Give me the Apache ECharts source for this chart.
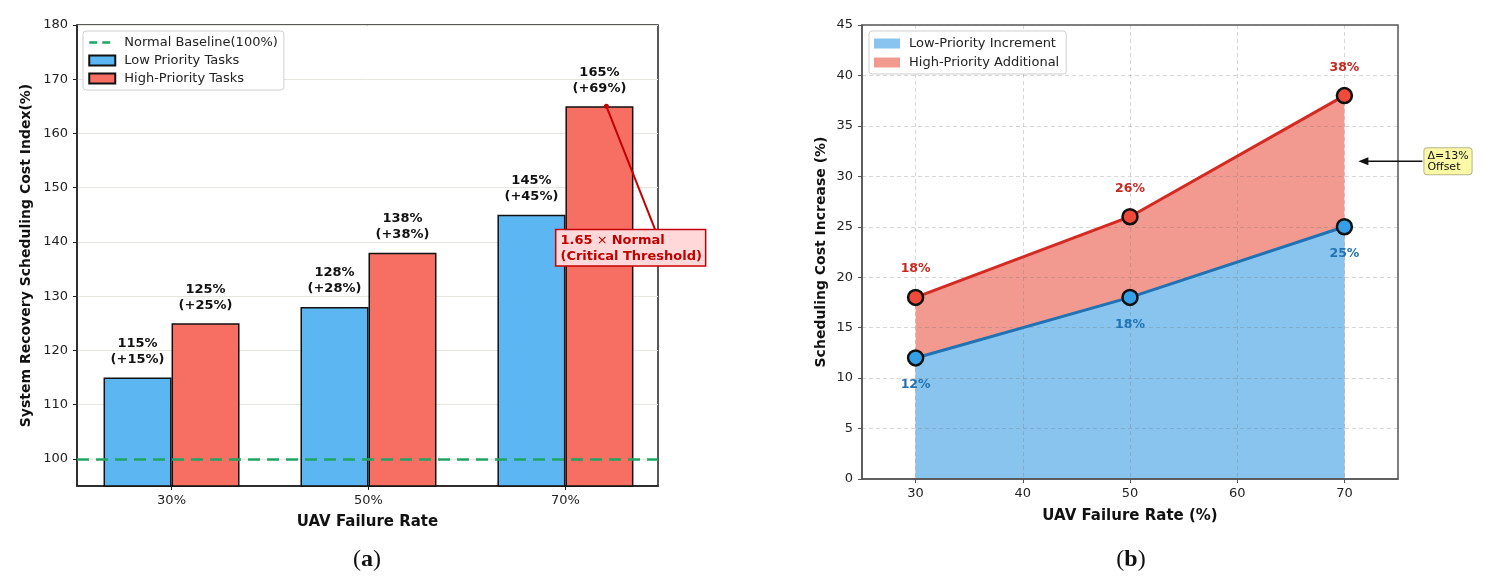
<!DOCTYPE html>
<html>
<head>
<meta charset="utf-8">
<script src="https://cdn.jsdelivr.net/npm/echarts@6/dist/echarts.min.js"></script>
<style>
  html, body { margin: 0; padding: 0; background: #fff; }
  #main { width: 1508px; height: 586px; }
</style>
</head>
<body>
<div id="main"></div>
<script>
// (a) bar chart
const failureRates = ['30%', '50%', '70%']
const lowPriority = [115, 128, 145]
const highPriority = [125, 138, 165]
const lowGain = [15, 28, 45]
const highGain = [25, 38, 69]
const baseline = 100
const costTicks = [100, 110, 120, 130, 140, 150, 160, 170, 180]
const barPos = [0, 1, 2]

// (b) area chart
const rateX = [30, 50, 70]
const lowIncrement = [12, 18, 25]
const highIncrement = [18, 26, 38]
const rateTicks = [30, 40, 50, 60, 70]

const FONT = 'DejaVu Sans'
const BLUE_FILL = '#88c4ee'
const RED_FILL = '#f29a90'
const chartDom = document.getElementById('main')
const myChart = echarts.init(chartDom)

const barLabel = (vals, gains) => ({
  show: true,
  position: 'top',
  distance: 10,
  formatter: (p) => vals[p.dataIndex] + '%\n(+' + gains[p.dataIndex] + '%)',
  fontFamily: FONT,
  fontSize: 13,
  fontWeight: 'bold',
  lineHeight: 16,
  color: '#111'
})

const legendBox = {
  orient: 'vertical',
  itemWidth: 26,
  itemHeight: 10,
  backgroundColor: '#fff',
  borderColor: '#cfcfcf',
  borderWidth: 1,
  borderRadius: 3,
  textStyle: { fontFamily: FONT, fontSize: 13, color: '#222', padding: [0, 0, 0, 4] }
}

const option = {
  animation: false,
  textStyle: { fontFamily: FONT },
  legend: [
    Object.assign({}, legendBox, {
      left: 83,
      top: 31,
      padding: [5, 6, 5, 5],
      itemGap: 5,
      data: [
        { name: 'Normal Baseline(100%)', itemStyle: { opacity: 0 }, lineStyle: { color: '#1fa463', type: [8, 5], width: 2.5 } },
        { name: 'Low Priority Tasks', icon: 'rect' },
        { name: 'High-Priority Tasks', icon: 'rect' }
      ]
    }),
    Object.assign({}, legendBox, {
      left: 869,
      top: 31,
      padding: [6, 7, 5, 5],
      itemGap: 6,
      data: [
        { name: 'Low-Priority Increment', icon: 'rect', itemStyle: { color: BLUE_FILL, borderWidth: 0 } },
        { name: 'High-Priority Additional', icon: 'rect', itemStyle: { color: RED_FILL, borderWidth: 0 } }
      ]
    })
  ],
  grid: [
    { left: 77, top: 25, width: 581, height: 461, show: true, borderColor: '#222', borderWidth: 1.5, backgroundColor: 'transparent' },
    { left: 862, top: 25, width: 536, height: 454, show: true, borderColor: '#555', borderWidth: 1.5, backgroundColor: 'transparent' }
  ],
  xAxis: [
    {
      gridIndex: 0,
      type: 'value',
      min: -0.48,
      max: 2.47,
      name: 'UAV Failure Rate',
      nameLocation: 'middle',
      nameGap: 29,
      nameTextStyle: { fontFamily: FONT, fontSize: 15, fontWeight: 'bold', color: '#111' },
      axisLine: { onZero: false, lineStyle: { color: '#222', width: 1.5 } },
      axisTick: { show: true, length: 4, customValues: barPos, lineStyle: { color: '#222' } },
      axisLabel: { fontFamily: FONT, fontSize: 13, color: '#222', margin: 8, customValues: barPos, formatter: (v) => failureRates[Math.round(v)] },
      splitLine: { show: false }
    },
    {
      gridIndex: 1,
      type: 'value',
      min: 25,
      max: 75,
      name: 'UAV Failure Rate (%)',
      nameLocation: 'middle',
      nameGap: 30,
      nameTextStyle: { fontFamily: FONT, fontSize: 15, fontWeight: 'bold', color: '#111' },
      axisLine: { onZero: false, lineStyle: { color: '#555', width: 1.5 } },
      axisTick: { show: true, length: 4, customValues: rateTicks, lineStyle: { color: '#555' } },
      axisLabel: { fontFamily: FONT, fontSize: 13, color: '#222', margin: 8, customValues: rateTicks },
      splitLine: { show: true, lineStyle: { color: 'rgba(110,110,110,0.28)', type: [4, 3], width: 1 } }
    }
  ],
  yAxis: [
    {
      gridIndex: 0,
      type: 'value',
      min: 95,
      max: 180,
      name: 'System Recovery Scheduling Cost Index(%)',
      nameLocation: 'middle',
      nameGap: 44,
      nameTextStyle: { fontFamily: FONT, fontSize: 14, fontWeight: 'bold', color: '#111' },
      axisLine: { show: true, onZero: false, lineStyle: { color: '#222', width: 1.5 } },
      axisTick: { show: true, length: 4, customValues: costTicks, lineStyle: { color: '#222' } },
      axisLabel: { fontFamily: FONT, fontSize: 13, color: '#222', margin: 9, customValues: costTicks },
      splitLine: { show: true, lineStyle: { color: '#e6e6dd', width: 1 } }
    },
    {
      gridIndex: 1,
      type: 'value',
      min: 0,
      max: 45,
      interval: 5,
      name: 'Scheduling Cost Increase (%)',
      nameLocation: 'middle',
      nameGap: 34,
      nameTextStyle: { fontFamily: FONT, fontSize: 14, fontWeight: 'bold', color: '#111' },
      axisLine: { show: true, onZero: false, lineStyle: { color: '#555', width: 1.5 } },
      axisTick: { show: true, length: 4, lineStyle: { color: '#555' } },
      axisLabel: { fontFamily: FONT, fontSize: 13, color: '#222', margin: 9 },
      splitLine: { show: true, lineStyle: { color: 'rgba(110,110,110,0.28)', type: [4, 3], width: 1 } }
    }
  ],
  series: [
    {
      name: 'Normal Baseline(100%)',
      type: 'line',
      xAxisIndex: 0,
      yAxisIndex: 0,
      data: [],
      symbol: 'none',
      color: '#1fa463',
      lineStyle: { color: '#1fa463', type: [8, 5], width: 2.5 },
      z: 5,
      markLine: {
        silent: true,
        symbol: 'none',
        label: { show: false },
        lineStyle: { color: '#1fa463', type: [12, 7], width: 2.5 },
        data: [{ yAxis: baseline }]
      }
    },
    {
      name: 'Low Priority Tasks',
      type: 'bar',
      xAxisIndex: 0,
      yAxisIndex: 0,
      data: barPos.map((x, i) => [x, lowPriority[i]]),
      barWidth: 68,
      barGap: '0%',
      itemStyle: { color: '#5cb6f2', borderColor: '#111', borderWidth: 1.5 },
      label: barLabel(lowPriority, lowGain)
    },
    {
      name: 'High-Priority Tasks',
      type: 'bar',
      xAxisIndex: 0,
      yAxisIndex: 0,
      data: barPos.map((x, i) => [x, highPriority[i]]),
      barWidth: 68,
      barGap: '0%',
      itemStyle: { color: '#f76f62', borderColor: '#111', borderWidth: 1.5 },
      label: barLabel(highPriority, highGain)
    },
    // filled bands (drawn under the dashed grid)
    {
      name: 'High-Priority Additional',
      type: 'line',
      xAxisIndex: 1,
      yAxisIndex: 1,
      data: rateX.map((x, i) => [x, highIncrement[i]]),
      symbol: 'none',
      color: RED_FILL,
      lineStyle: { width: 0 },
      areaStyle: { color: RED_FILL, opacity: 1 },
      z: -2
    },
    {
      name: 'Low-Priority Increment',
      type: 'line',
      xAxisIndex: 1,
      yAxisIndex: 1,
      data: rateX.map((x, i) => [x, lowIncrement[i]]),
      symbol: 'none',
      color: BLUE_FILL,
      lineStyle: { width: 0 },
      areaStyle: { color: BLUE_FILL, opacity: 1 },
      z: -1
    },
    // outlines, markers and value labels
    {
      name: 'lowLine',
      type: 'line',
      xAxisIndex: 1,
      yAxisIndex: 1,
      data: rateX.map((x, i) => [x, lowIncrement[i]]),
      symbol: 'circle',
      symbolSize: 15,
      lineStyle: { color: '#1f72b4', width: 3 },
      itemStyle: { color: '#35a0e8', borderColor: '#111', borderWidth: 2.5 },
      label: {
        show: true,
        position: 'bottom',
        distance: 12,
        formatter: (p) => lowIncrement[p.dataIndex] + '%',
        fontFamily: FONT,
        fontSize: 12.5,
        fontWeight: 'bold',
        color: '#1f72b4'
      },
      z: 3
    },
    {
      name: 'highLine',
      type: 'line',
      xAxisIndex: 1,
      yAxisIndex: 1,
      data: rateX.map((x, i) => [x, highIncrement[i]]),
      symbol: 'circle',
      symbolSize: 15,
      lineStyle: { color: '#d42a22', width: 3 },
      itemStyle: { color: '#f04a3a', borderColor: '#111', borderWidth: 2.5 },
      label: {
        show: true,
        position: 'top',
        distance: 13,
        formatter: (p) => highIncrement[p.dataIndex] + '%',
        fontFamily: FONT,
        fontSize: 12.5,
        fontWeight: 'bold',
        color: '#c62820'
      },
      z: 4
    }
  ]
}

myChart.setOption(option)

// annotations placed from the axes
const peak = myChart.convertToPixel({ xAxisIndex: 0, yAxisIndex: 0 }, [barPos[2], highPriority[2]])
const dotX = peak[0] + 41
const dotY = peak[1]
const last = rateX.length - 1
const mid = myChart.convertToPixel({ xAxisIndex: 1, yAxisIndex: 1 },
  [rateX[last], (lowIncrement[last] + highIncrement[last]) / 2])
const delta = highIncrement[last] - lowIncrement[last]

myChart.setOption({
  graphic: [
    {
      type: 'line',
      shape: { x1: dotX, y1: dotY, x2: dotX + 49, y2: dotY + 124 },
      style: { stroke: '#c40000', lineWidth: 2 },
      z: 20
    },
    {
      type: 'circle',
      shape: { cx: dotX, cy: dotY, r: 2.5 },
      style: { fill: '#c40000' },
      z: 21
    },
    {
      type: 'text',
      x: dotX - 50,
      y: dotY + 124,
      z: 22,
      style: {
        text: '{b|1.65} × {b|Normal}\n{b|(Critical Threshold)}',
        fill: '#c00000',
        font: '13px "DejaVu Sans"',
        lineHeight: 16,
        backgroundColor: '#ffd9d9',
        borderColor: '#c40000',
        borderWidth: 1.5,
        padding: [2, 3, 1, 4],
        rich: {
          b: { fontFamily: FONT, fontSize: 13, fontWeight: 'bold', fill: '#c00000', lineHeight: 16 }
        }
      }
    },
    {
      type: 'line',
      shape: { x1: mid[0] + 78, y1: mid[1], x2: mid[0] + 22, y2: mid[1] },
      style: { stroke: '#111', lineWidth: 1.5 },
      z: 20
    },
    {
      type: 'polygon',
      shape: { points: [[mid[0] + 14, mid[1]], [mid[0] + 24, mid[1] - 4], [mid[0] + 24, mid[1] + 4]] },
      style: { fill: '#111' },
      z: 20
    },
    {
      type: 'text',
      x: mid[0] + 80,
      y: mid[1] - 13,
      z: 22,
      style: {
        text: 'Δ=' + delta + '%\nOffset',
        fill: '#111',
        font: '11px "DejaVu Sans"',
        lineHeight: 11,
        backgroundColor: '#fbf9a6',
        borderColor: '#b8b48a',
        borderWidth: 1,
        borderRadius: 3,
        padding: [2, 3, 2, 3]
      }
    },
    {
      type: 'text',
      x: 367,
      y: 560,
      style: {
        text: '({b|a})',
        fill: '#111',
        font: '24px "Liberation Serif"',
        align: 'center',
        verticalAlign: 'middle',
        rich: { b: { fontFamily: 'Liberation Serif', fontSize: 24, fontWeight: 'bold', fill: '#111' } }
      }
    },
    {
      type: 'text',
      x: 1131,
      y: 560,
      style: {
        text: '({b|b})',
        fill: '#111',
        font: '24px "Liberation Serif"',
        align: 'center',
        verticalAlign: 'middle',
        rich: { b: { fontFamily: 'Liberation Serif', fontSize: 24, fontWeight: 'bold', fill: '#111' } }
      }
    }
  ]
})
</script>
</body>
</html>
